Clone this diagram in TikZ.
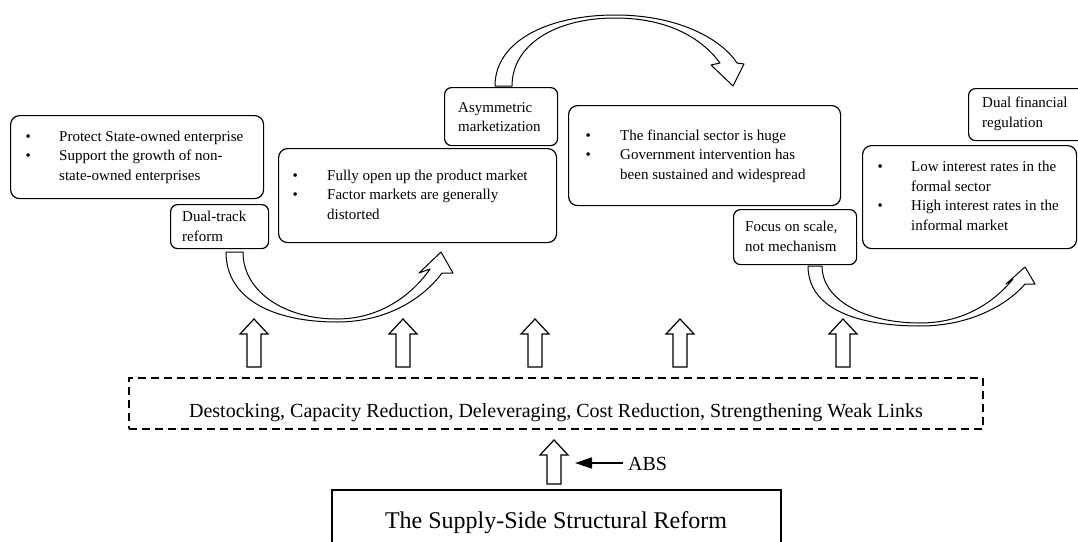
\documentclass[tikz,border=0pt]{standalone}
\usepackage{fontspec}
\setmainfont{Liberation Serif}
\usetikzlibrary{arrows.meta}

% hollow up-pointing block arrow: centre x, tip y, bottom y
\newcommand\blockup[3]{%
  \draw[blockarrow] (#1-7,#3) -- (#1-7,#2+15) -- (#1-14,#2+15) -- (#1,#2)
    -- (#1+14,#2+15) -- (#1+7,#2+15) -- (#1+7,#3) -- cycle;}

\begin{document}
\begin{tikzpicture}[x=1pt,y=-1pt,
  rbox/.style={draw=black, line width=1.2pt, rounded corners=9pt, fill=white, inner sep=0pt, anchor=north west},
  sbox/.style={rbox, rounded corners=7pt},
  txt/.style={inner sep=0pt, anchor=west, font=\fontsize{15}{19.5}\selectfont, align=left},
  curvarrow/.style={draw=black, line width=1pt, fill=white, line join=round},
  blockarrow/.style={draw=black, line width=1.2pt, fill=white, line join=miter},
  dashbox/.style={draw=black, line width=1.3pt, dash pattern=on 8pt off 5pt, minimum width=854pt, minimum height=51pt, inner sep=0pt},
  mainbox/.style={draw=black, line width=1.5pt, minimum width=449pt, minimum height=62pt, inner sep=0pt, anchor=north},
  absarrow/.style={line width=1.5pt, -{Triangle[length=17pt,width=11pt]}},
]
\useasboundingbox (0,0) rectangle (1078,541);
\clip (0,0) rectangle (1078,541);

% ---- curved transition arrows ----
\draw[curvarrow] (226,252) .. controls (226,300) and (275,322) .. (337,322)
  .. controls (385,322) and (422,300) .. (442,273) -- (453,273) -- (441,252) -- (419,273) -- (430,269)
  .. controls (412,295) and (380,319) .. (337,319)
  .. controls (285,319) and (243,292) .. (243,252) -- cycle;

\draw[curvarrow] (495,86) .. controls (495,40) and (550,15) .. (615,15)
  .. controls (680,15) and (722,40) .. (737,63) -- (744,64) -- (733,86) -- (711,65) -- (720,63)
  .. controls (700,36) and (665,18) .. (615,18)
  .. controls (555,18) and (512,45) .. (512,86) -- cycle;

\draw[curvarrow] (808,266) .. controls (808,310) and (860,326) .. (920,326)
  .. controls (970,326) and (1007,305) .. (1025,284) -- (1035,284) -- (1025,267) -- (1006,284) -- (1013,279)
  .. controls (995,301) and (965,323) .. (920,323)
  .. controls (865,323) and (822,300) .. (822,266) -- cycle;

% ---- stage boxes ----
\node[rbox, minimum width=253pt, minimum height=83pt] (soe) at (10,115) {};
\node[txt] (soeText) at (25.5,157) {\begin{tabular}{@{}p{33.5pt}@{}l@{}}
  \textbullet & Protect State-owned enterprise\\
  \textbullet & Support the growth of non-\\
  & state-owned enterprises\end{tabular}};

\node[sbox, minimum width=98pt, minimum height=44pt] (dual) at (170,204) {};
\node[txt] (dualText) at (182,226.5) {Dual-track\\reform};

\node[rbox, minimum width=278pt, minimum height=94pt] (product) at (278,148) {};
\node[txt] (productText) at (292.4,196) {\begin{tabular}{@{}p{34.6pt}@{}l@{}}
  \textbullet & Fully open up the product market\\
  \textbullet & Factor markets are generally\\
  & distorted\end{tabular}};

\node[sbox, minimum width=113pt, minimum height=58pt] (asym) at (444,87) {};
\node[txt] (asymText) at (458,117) {Asymmetric\\marketization};

\node[rbox, minimum width=272pt, minimum height=100pt] (finance) at (568,105) {};
\node[txt] (financeText) at (585.4,156) {\begin{tabular}{@{}p{34.6pt}@{}l@{}}
  \textbullet & The financial sector is huge\\
  \textbullet & Government intervention has\\
  & been sustained and widespread\end{tabular}};

\node[sbox, minimum width=123pt, minimum height=55pt] (focus) at (733,209) {};
\node[txt] (focusText) at (745,236.5) {Focus on scale,\\not mechanism};

\node[rbox, minimum width=214pt, minimum height=103pt] (rates) at (862,145) {};
\node[txt] (ratesText) at (877.4,197) {\begin{tabular}{@{}p{33.6pt}@{}l@{}}
  \textbullet & Low interest rates in the\\
  & formal sector\\
  \textbullet & High interest rates in the\\
  & informal market\end{tabular}};

\node[sbox, minimum width=130pt, minimum height=52pt] (regul) at (968,88) {};
\node[txt] (regulText) at (982,114) {Dual financial\\regulation};

% ---- support arrows ----
\blockup{254}{319}{367}
\blockup{403}{319}{367}
\blockup{535}{319}{367}
\blockup{680}{319}{367}
\blockup{843}{319}{367}

% ---- measures ----
\node[dashbox] (ops) at (556,403.5) {};
\node[anchor=base, inner sep=0pt, font=\fontsize{20}{24}\selectfont] (opsText) at (556,417)
  {Destocking, Capacity Reduction, Deleveraging, Cost Reduction, Strengthening Weak Links};

\blockup{554}{440}{484}

\node[anchor=base west, inner sep=0pt, font=\fontsize{20}{24}\selectfont] (abs) at (628,470) {ABS};
\coordinate (absTip) at (575,463);
\draw[absarrow] (623,463) -- (absTip);

% ---- foundation ----
\node[mainbox] (ssr) at (556.5,489) {};
\node[anchor=base, inner sep=0pt, font=\fontsize{24}{28}\selectfont] (ssrText) at (556,528)
  {The Supply-Side Structural Reform};
\end{tikzpicture}
\end{document}
